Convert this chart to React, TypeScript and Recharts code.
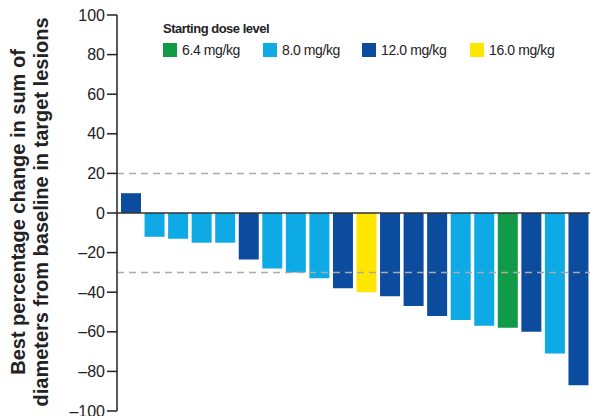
import React from "react";
import { BarChart, Bar, Cell, XAxis, YAxis, ReferenceLine } from "recharts";

// one bar per patient, sorted by best response
const patients = Array.from({ length: 20 }, (_, i) => `P${i + 1}`);
const change = [10, -12, -13, -15, -15, -23.5, -28, -30, -33, -38, -40, -42, -47, -52, -54, -57, -58, -60, -71, -87];
const dose = ["12.0", "8.0", "8.0", "8.0", "8.0", "12.0", "8.0", "8.0", "8.0", "12.0", "16.0", "12.0", "12.0", "12.0", "8.0", "8.0", "6.4", "12.0", "8.0", "12.0"];

const doseLevels = ["6.4", "8.0", "12.0", "16.0"];
const doseColor: Record<string, string> = {
  "6.4": "#119a47",
  "8.0": "#0eaae6",
  "12.0": "#0c4c9e",
  "16.0": "#ffe600",
};

const yTicks = [100, 80, 60, 40, 20, 0, -20, -40, -60, -80, -100];

const data = patients.map((p, i) => ({ patient: p, change: change[i], dose: dose[i] }));

const font = "'Liberation Sans', Arial, sans-serif";
const itemWidth = [100, 99, 108, 100];

function DoseLegend() {
  return (
    <div style={{ position: "absolute", left: 163, top: 21, fontFamily: font, color: "#222" }}>
      <div style={{ fontWeight: "bold", fontSize: 13, letterSpacing: -0.5, marginBottom: 6 }}>Starting dose level</div>
      <div style={{ display: "flex", alignItems: "center" }}>
        {doseLevels.map((d, i) => (
          <div key={d} style={{ display: "flex", alignItems: "center", width: itemWidth[i] }}>
            <span style={{ width: 14, height: 14, background: doseColor[d], display: "inline-block", marginRight: 5 }} />
            <span style={{ fontSize: 14, letterSpacing: -0.4 }}>{d} mg/kg</span>
          </div>
        ))}
      </div>
    </div>
  );
}

function AxisTitle() {
  const cy = 212;
  return (
    <g fontFamily={font} fontWeight="bold" fontSize={20} fill="#222" textAnchor="middle">
      <text transform={`translate(25, ${cy}) rotate(-90)`}>Best percentage change in sum of</text>
      <text transform={`translate(48, ${cy}) rotate(-90)`}>diameters from baseline in target lesions</text>
    </g>
  );
}

export default function App() {
  return (
    <div style={{ position: "absolute", left: 0, top: 0, width: 590, height: 416, background: "#fff" }}>
      <BarChart width={590} height={416} data={data} margin={{ top: 15, right: 0, bottom: 5, left: 0 }} barCategoryGap={2}>
        <XAxis dataKey="patient" hide padding={{ left: 2, right: 0 }} />
        <YAxis
          width={117}
          domain={[-100, 100]}
          ticks={yTicks}
          interval={0}
          axisLine={{ stroke: "#222", strokeWidth: 1.5 }}
          tickLine={{ stroke: "#222", strokeWidth: 1.5 }}
          tickSize={10}
          tick={{ fontFamily: font, fontSize: 16, fill: "#222" }}
          tickFormatter={(v: number) => (v < 0 ? `–${-v}` : `${v}`)}
          label={<AxisTitle />}
        />
        <ReferenceLine y={20} stroke="#aaa" strokeWidth={1.5} strokeDasharray="7 5" />
        <ReferenceLine y={-30} stroke="#aaa" strokeWidth={1.5} strokeDasharray="7 5" />
        <Bar dataKey="change" isAnimationActive={false}>
          {data.map((d) => (
            <Cell key={d.patient} fill={doseColor[d.dose]} />
          ))}
        </Bar>
        <ReferenceLine y={0} stroke="#333" strokeWidth={1.5} />
      </BarChart>
      <DoseLegend />
    </div>
  );
}
